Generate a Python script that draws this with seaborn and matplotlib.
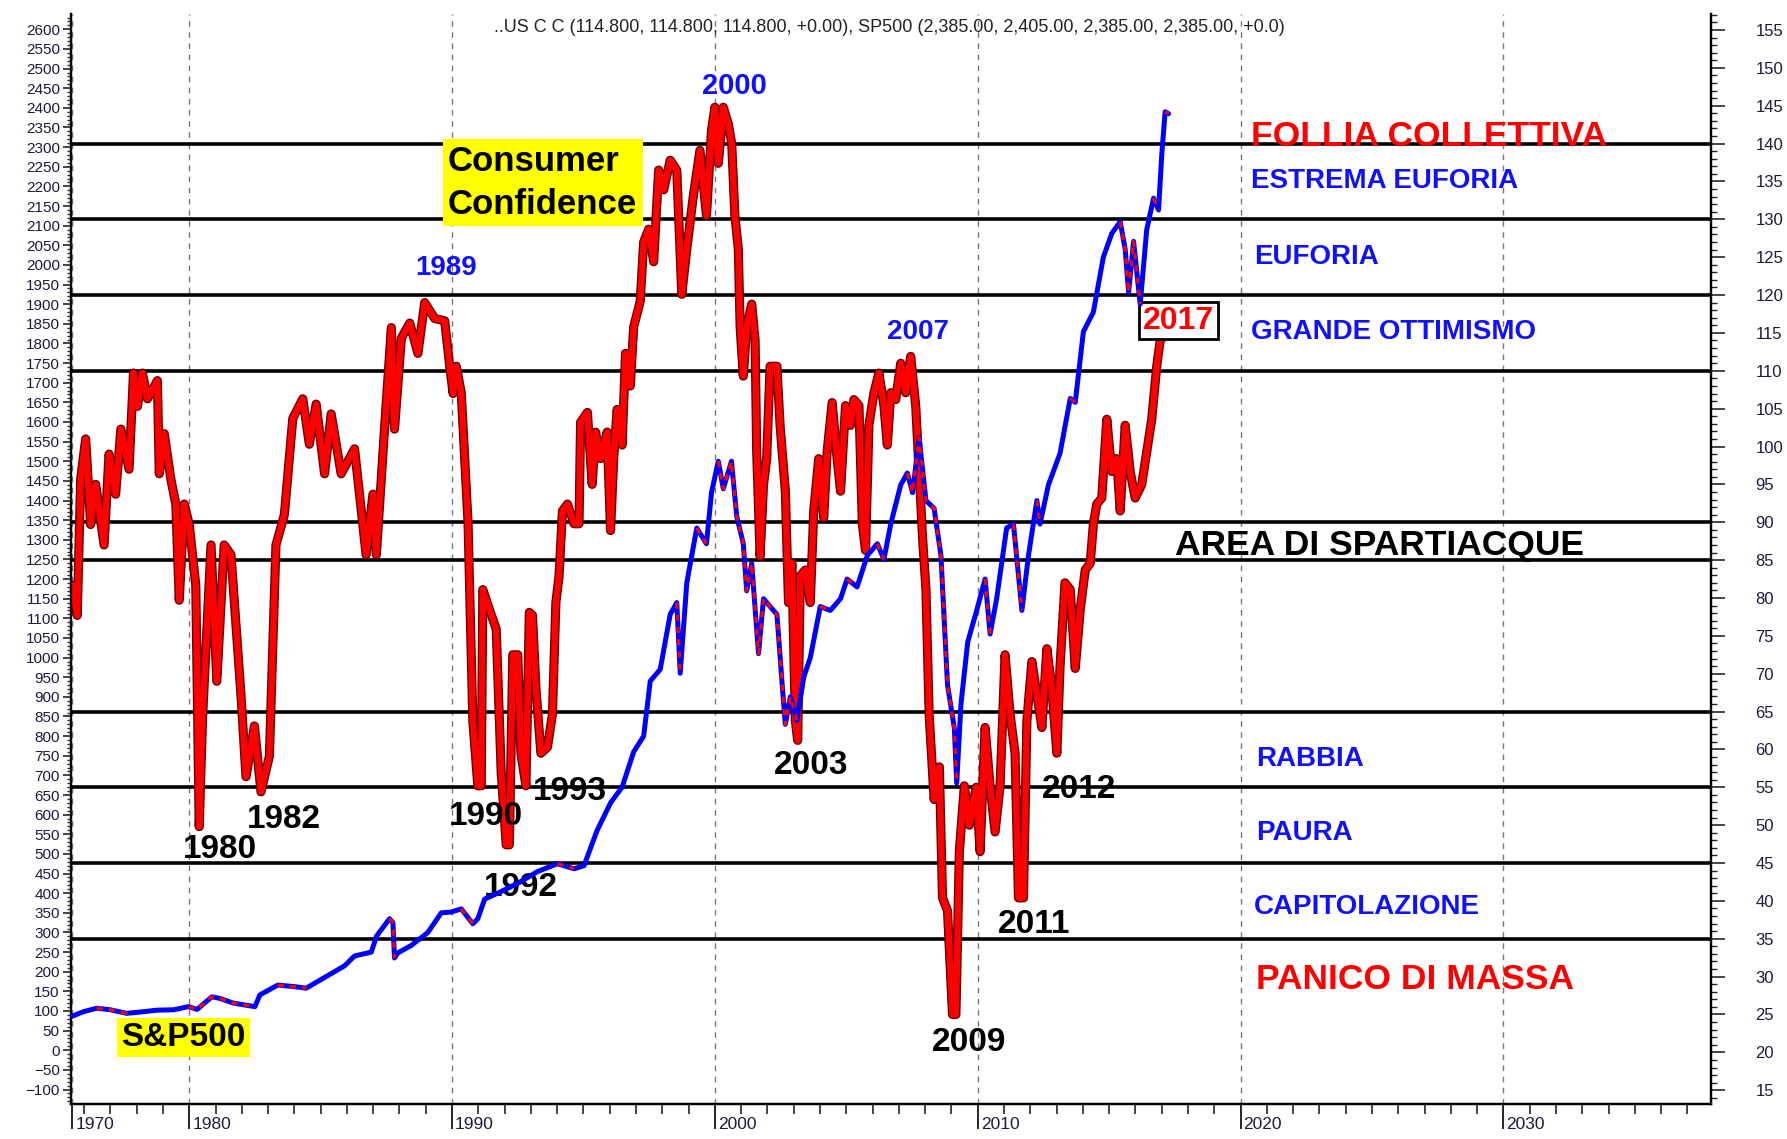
import numpy as np
import pandas as pd
import seaborn as sns
import matplotlib.pyplot as plt
import matplotlib.patheffects as pe
from matplotlib.ticker import MultipleLocator, FixedLocator
from matplotlib.transforms import ScaledTranslation

# Consumer Confidence (right axis)
cc_year = [1975.55, 1975.74, 1975.87, 1976.06, 1976.25, 1976.44, 1976.76, 1976.95, 1977.20, 1977.40,
           1977.71, 1977.88, 1978.03, 1978.22, 1978.41, 1978.79, 1978.86, 1979.05, 1979.30, 1979.49,
           1979.62, 1979.81, 1980.00, 1980.25, 1980.38, 1980.51, 1980.83, 1981.05, 1981.33, 1981.59,
           1981.97, 1982.16, 1982.48, 1982.73, 1983.05, 1983.30, 1983.62, 1983.94, 1984.32, 1984.57,
           1984.83, 1985.15, 1985.40, 1985.78, 1986.29, 1986.73, 1986.99, 1987.12, 1987.43, 1987.69,
           1987.81, 1988.07, 1988.39, 1988.70, 1988.96, 1989.34, 1989.72, 1989.91, 1990.04, 1990.16,
           1990.35, 1990.61, 1990.79, 1990.98, 1991.11, 1991.17, 1991.42, 1991.68, 1991.87, 1992.06,
           1992.18, 1992.31, 1992.50, 1992.62, 1992.81, 1992.94, 1993.06, 1993.19, 1993.38, 1993.63,
           1993.82, 1993.95, 1994.07, 1994.20, 1994.39, 1994.64, 1994.83, 1994.89, 1995.15, 1995.33,
           1995.46, 1995.65, 1995.90, 1996.03, 1996.15, 1996.28, 1996.47, 1996.60, 1996.78, 1996.91,
           1997.16, 1997.29, 1997.48, 1997.67, 1997.86, 1998.05, 1998.30, 1998.55, 1998.74, 1998.93,
           1999.18, 1999.43, 1999.68, 1999.87, 2000.00, 2000.13, 2000.32, 2000.51, 2000.64, 2000.76,
           2000.89, 2000.96, 2001.08, 2001.21, 2001.40, 2001.53, 2001.59, 2001.72, 2001.85, 2001.97,
           2002.10, 2002.36, 2002.48, 2002.68, 2002.80, 2002.93, 2003.06, 2003.15, 2003.25, 2003.44,
           2003.63, 2003.76, 2003.95, 2004.14, 2004.27, 2004.46, 2004.65, 2004.78, 2004.97, 2005.16,
           2005.29, 2005.48, 2005.61, 2005.73, 2005.86, 2006.05, 2006.24, 2006.43, 2006.56, 2006.69,
           2006.88, 2007.07, 2007.26, 2007.45, 2007.64, 2007.77, 2007.90, 2008.03, 2008.15, 2008.34,
           2008.54, 2008.66, 2008.85, 2009.04, 2009.17, 2009.30, 2009.49, 2009.68, 2009.94, 2010.09,
           2010.28, 2010.47, 2010.66, 2010.85, 2011.04, 2011.23, 2011.42, 2011.55, 2011.74, 2011.87,
           2012.06, 2012.25, 2012.44, 2012.63, 2012.82, 2013.01, 2013.13, 2013.32, 2013.52, 2013.71,
           2013.90, 2014.09, 2014.28, 2014.40, 2014.53, 2014.72, 2014.91, 2015.10, 2015.29, 2015.42,
           2015.61, 2015.80, 2015.99, 2016.24, 2016.43, 2016.62, 2016.81, 2016.94, 2017.13]
cc_value = [81.7, 77.7, 95.7, 101.0, 89.7, 95.0, 87.0, 99.0, 93.7, 102.3,
            97.0, 109.7, 105.3, 109.7, 106.3, 108.7, 96.4, 101.7, 95.7, 92.4,
            79.7, 92.4, 89.7, 81.7, 49.8, 64.4, 87.0, 69.0, 87.0, 85.7,
            67.1, 56.4, 63.1, 54.4, 59.1, 87.0, 91.0, 103.7, 106.3, 100.3,
            105.6, 96.4, 104.3, 96.4, 99.7, 85.7, 93.7, 85.7, 102.3, 115.7,
            102.3, 114.3, 116.3, 112.3, 119.0, 116.9, 116.6, 110.6, 107.0, 110.6,
            107.1, 89.8, 63.8, 55.2, 55.2, 81.1, 78.5, 75.9, 56.9, 47.4,
            47.4, 72.5, 72.5, 59.5, 55.2, 78.1, 77.7, 68.1, 59.5, 60.3,
            64.7, 79.4, 82.9, 91.5, 92.4, 89.8, 89.8, 103.2, 104.5, 95.0,
            101.9, 98.4, 101.9, 88.9, 98.4, 104.9, 100.2, 112.3, 108.0, 115.8,
            119.2, 127.0, 128.7, 124.4, 136.5, 133.9, 137.8, 136.5, 120.1, 126.1,
            133.1, 139.1, 130.5, 141.7, 144.8, 137.4, 144.8, 142.6, 140.0, 130.5,
            126.1, 115.8, 109.3, 115.8, 118.8, 114.0, 99.3, 85.5, 95.0, 98.4,
            110.6, 110.6, 102.8, 94.1, 79.4, 84.6, 63.8, 61.2, 82.9, 83.7,
            79.4, 91.5, 98.4, 90.6, 99.3, 105.8, 98.4, 94.1, 105.4, 102.8,
            106.2, 105.4, 89.8, 86.3, 102.8, 107.1, 109.7, 105.4, 100.2, 107.1,
            106.2, 111.0, 107.1, 111.9, 105.4, 96.7, 88.0, 81.1, 64.7, 53.4,
            57.7, 40.4, 38.7, 25.0, 25.0, 46.5, 55.2, 50.0, 55.0, 46.5,
            62.9, 55.2, 49.1, 55.2, 72.5, 64.7, 59.5, 40.4, 40.4, 63.8,
            71.6, 67.3, 62.9, 73.3, 68.1, 59.5, 70.9, 82.0, 81.1, 70.7,
            78.5, 83.7, 84.6, 89.8, 92.4, 93.2, 103.6, 96.7, 98.4, 91.5,
            102.8, 96.7, 93.2, 95.0, 99.3, 103.6, 110.6, 114.0, 114.8]

# S&P 500 (left axis)
sp_year = [1975.52, 1975.97, 1976.48, 1977.00, 1977.62, 1978.25, 1978.76, 1979.40, 1979.97, 1980.30,
           1980.86, 1981.17, 1981.68, 1982.50, 1982.69, 1983.37, 1984.00, 1984.45, 1985.27, 1985.91,
           1986.29, 1986.93, 1987.12, 1987.62, 1987.75, 1987.81, 1987.94, 1988.45, 1989.08, 1989.59,
           1989.97, 1990.35, 1990.79, 1990.98, 1991.24, 1991.74, 1992.50, 1993.25, 1994.01, 1994.64,
           1995.02, 1995.52, 1996.03, 1996.47, 1996.91, 1997.29, 1997.54, 1997.92, 1998.30, 1998.55,
           1998.68, 1998.93, 1999.31, 1999.68, 1999.87, 2000.13, 2000.32, 2000.63, 2000.83, 2001.08,
           2001.21, 2001.40, 2001.66, 2001.85, 2002.10, 2002.36, 2002.55, 2002.68, 2002.87, 2003.12,
           2003.38, 2003.63, 2004.01, 2004.39, 2004.78, 2005.03, 2005.41, 2005.80, 2006.18, 2006.43,
           2006.69, 2007.07, 2007.32, 2007.52, 2007.77, 2008.03, 2008.34, 2008.60, 2008.85, 2009.11,
           2009.20, 2009.36, 2009.62, 2009.96, 2010.28, 2010.47, 2010.72, 2011.10, 2011.36, 2011.68,
           2011.93, 2012.25, 2012.37, 2012.69, 2013.13, 2013.52, 2013.71, 2014.02, 2014.40, 2014.78,
           2015.10, 2015.42, 2015.61, 2015.74, 2015.93, 2016.18, 2016.43, 2016.69, 2016.88, 2017.00,
           2017.13, 2017.26]
sp_value = [86, 98, 107, 103, 94, 98, 102, 103, 111, 104,
            136, 132, 120, 111, 141, 166, 162, 158, 190, 215,
            240, 250, 290, 335, 325, 235, 248, 267, 300, 350,
            352, 360, 322, 335, 385, 400, 425, 455, 475, 462,
            470, 560, 630, 670, 760, 800, 940, 970, 1110, 1140,
            960, 1190, 1330, 1290, 1420, 1500, 1430, 1500, 1360, 1290,
            1170, 1240, 1010, 1150, 1130, 1110, 940, 830, 900, 840,
            950, 1000, 1130, 1120, 1150, 1200, 1180, 1260, 1290, 1250,
            1340, 1440, 1470, 1420, 1560, 1400, 1380, 1260, 930, 820,
            680, 880, 1040, 1120, 1200, 1060, 1150, 1330, 1340, 1120,
            1260, 1400, 1340, 1440, 1520, 1660, 1650, 1830, 1880, 2020,
            2080, 2110, 2040, 1930, 2060, 1900, 2090, 2170, 2140, 2280,
            2390, 2385]

zone_levels = [140, 130, 120, 110, 90, 85, 65, 55, 45, 35]

zone_text = ['FOLLIA COLLETTIVA', 'ESTREMA EUFORIA', 'EUFORIA', 'GRANDE OTTIMISMO',
             'AREA DI SPARTIACQUE', 'RABBIA', 'PAURA', 'CAPITOLAZIONE', 'PANICO DI MASSA']
zone_x = [2020.4, 2020.4, 2020.5, 2020.4, 2017.5, 2020.6, 2020.6, 2020.5, 2020.6]
zone_y = [140.9, 135.0, 125.0, 115.1, 86.9, 58.8, 49.0, 39.2, 29.6]
zone_color = ['#ff0000', '#1010ff', '#1010ff', '#1010ff', 'black',
              '#1010ff', '#1010ff', '#1010ff', '#ff0000']
zone_size = [25.5, 20, 20, 20, 25.5, 20, 20, 20, 25.5]

year_text = ['1989', '2000', '2007', '1980', '1982', '1990', '1993', '1992',
             '2003', '2009', '2011', '2012']
year_x = [1989.76, 2000.73, 2007.71, 1981.17, 1983.6, 1991.27, 1994.48, 1992.62,
          2003.68, 2009.66, 2012.13, 2013.87]
year_y = [123.6, 147.6, 115.1, 46.8, 50.8, 51.1, 54.4, 41.8, 57.9, 21.3, 36.9, 54.7]
year_color = ['#1010ff'] * 3 + ['black'] * 9
year_size = [20, 21, 20] + [24] * 9

x_ticks = [1975.55, 1980, 1990, 2000, 2010, 2020, 2030]
x_tick_labels = ['1970', '1980', '1990', '2000', '2010', '2020', '2030']

title = ('..US C C (114.800, 114.800, 114.800, +0.00), '
         'SP500 (2,385.00, 2,405.00, 2,385.00, 2,385.00, +0.0)')

# linear link between left (S&P) and right (CC) scales
link_a, link_b = 20.28, 0.05185
left_lim = (-137, 2639)

sns.set_style('white')
plt.rcParams['font.family'] = ['Liberation Sans', 'DejaVu Sans']

fig = plt.figure(figsize=(17.87, 11.39), dpi=100)
ax = fig.add_axes([0.0397, 0.0307, 0.9178, 0.957])
ax2 = ax.twinx()
ax.set_zorder(ax2.get_zorder() + 1)
ax.patch.set_visible(False)

ax.set_xlim(1975.5, 2037.9)
ax.set_ylim(*left_lim)
ax2.set_ylim(link_a + link_b * left_lim[0], link_a + link_b * left_lim[1])

for x in x_ticks:
    ax2.axvline(x, color='#777777', lw=1, ls=(0, (4, 4)), zorder=0)
for lvl in zone_levels:
    ax2.axhline(lvl, color='black', lw=2.6, zorder=1)

cc = pd.DataFrame({'year': cc_year, 'cc': cc_value})
sns.lineplot(data=cc, x='year', y='cc', ax=ax2, color='#ff0000', lw=4.6,
             errorbar=None, zorder=3,
             path_effects=[pe.Stroke(linewidth=6.6, foreground='#6a0000'), pe.Normal()])

sp = pd.DataFrame({'year': sp_year, 'sp': sp_value})
sns.lineplot(data=sp, x='year', y='sp', ax=ax, color='#0000ff', lw=3.6, errorbar=None, zorder=3)
# down moves drawn in red, like the bar colours of the original
down = np.diff(sp['sp'].values) < 0
mask = np.zeros(len(sp), dtype=bool)
mask[1:] |= down
mask[:-1] |= down
red_part = np.where(mask, sp['sp'].values, np.nan)
ax.plot(sp['year'], red_part, color='#ff0000', lw=2.2, ls=(0, (2, 2)), zorder=4)

ax.set_xlabel('')
ax.set_ylabel('')
ax2.set_ylabel('')

# axes / ticks
for a in (ax, ax2):
    a.spines['top'].set_visible(False)
    for s in ('left', 'right', 'bottom'):
        a.spines[s].set_color('black')
        a.spines[s].set_linewidth(1.6)

ax.xaxis.set_major_locator(FixedLocator(x_ticks))
ax.set_xticklabels(x_tick_labels)
ax.xaxis.set_minor_locator(MultipleLocator(1))
ax.tick_params(axis='x', which='major', direction='out', length=18, width=1.4,
               labelsize=12.5, labelcolor='#1a1a40', pad=-9, bottom=True)
ax.tick_params(axis='x', which='minor', direction='out', length=7, width=1.2, bottom=True)
for lab in ax.get_xticklabels():
    lab.set_ha('left')
    lab.set_transform(lab.get_transform() + ScaledTranslation(3 / 100, 0, fig.dpi_scale_trans))

ax.set_yticks(np.arange(-100, 2601, 50))
ax.yaxis.set_minor_locator(MultipleLocator(10))
ax.tick_params(axis='y', which='major', direction='out', length=6, width=1.2,
               labelsize=11, labelcolor='#1a1a40', pad=2, left=True)
ax.tick_params(axis='y', which='minor', direction='out', length=3, width=1, left=True)

ax2.set_yticks(np.arange(15, 156, 5))
ax2.yaxis.set_minor_locator(MultipleLocator(1))
ax2.tick_params(axis='y', which='major', direction='out', length=10, width=1.2,
                labelsize=12, labelcolor='#1a1a40', pad=22, right=True)
ax2.tick_params(axis='y', which='minor', direction='out', length=4, width=1, right=True)
ax2.grid(False)
ax.grid(False)

# zone labels and year labels
for t, x, y, c, s in zip(zone_text, zone_x, zone_y, zone_color, zone_size):
    ax2.text(x, y, t, color=c, fontsize=s, fontweight='bold', ha='left', va='center', zorder=5)
for t, x, y, c, s in zip(year_text, year_x, year_y, year_color, year_size):
    ax2.text(x, y, t, color=c, fontsize=s, fontweight='bold', ha='center', va='center', zorder=5)

ax2.text(2017.64, 116.6, '2017', color='#ff0000', fontsize=23, fontweight='bold',
         ha='center', va='center', zorder=6,
         bbox=dict(facecolor='white', edgecolor='black', linewidth=2, pad=2.5))
ax2.text(1989.85, 134.8, 'Consumer\nConfidence', color='black', fontsize=25, fontweight='bold',
         ha='left', va='center', linespacing=1.38, zorder=6,
         bbox=dict(facecolor='#ffff00', edgecolor='none', pad=4))
ax2.text(1979.78, 21.95, 'S&P500', color='black', fontsize=24, fontweight='bold',
         ha='center', va='center', zorder=6,
         bbox=dict(facecolor='#ffff00', edgecolor='none', pad=3))

fig.text(889 / 1787, 1 - 28 / 1139, title, fontsize=13, color='#222222',
         ha='center', va='center', family=['Liberation Sans Narrow', 'Liberation Sans'])

fig.savefig('out.png', dpi=100)
